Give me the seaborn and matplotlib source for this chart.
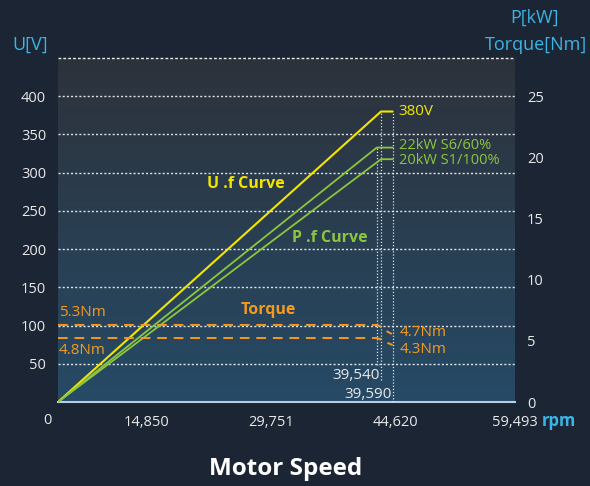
import numpy as np
import pandas as pd
import matplotlib
matplotlib.use("Agg")
import matplotlib.pyplot as plt
import seaborn as sns

# ---------------- data ----------------
speed_ticks = [0, 14850, 29751, 44620, 59493]
speed_tick_labels = ["", "14,850", "29,751", "44,620", "59,493"]
volt_ticks = [50, 100, 150, 200, 250, 300, 350, 400]
right_ticks = [0, 5, 10, 15, 20, 25]

u_speed = [0, 39540, 39590]
u_volt = [0, 380, 380]

p22_speed = [0, 39160, 39590]
p22_kw = [0, 20.8, 20.8]
p20_speed = [0, 39540, 39590]
p20_kw = [0, 19.85, 19.85]

t_hi_speed = [0, 39160, 39450, 39549, 39586]
t_hi_nm = [6.3, 6.3, 6.2, 5.95, 5.56]
t_lo_speed = [0, 39160, 39450, 39549, 39590]
t_lo_nm = [5.23, 5.23, 5.15, 4.98, 4.66]

# schematic (non-linear) speed axis of the original drawing
scale_rpm = [0, 14850, 29751, 39540, 39590, 44620, 59493]
scale_pos = [0, 89, 213, 323, 334.7, 337, 457]

# ---------------- style ----------------
BG = "#1b2533"
YEL = "#f2e600"
GRN = "#8cc63f"
ORG = "#f39a1e"
BLU = "#3bb4e6"
TXT = "#e8e8e8"

sns.set_style("dark")
plt.rcParams["font.family"] = ["Open Sans", "DejaVu Sans"]

W, H = 590, 486
fig = plt.figure(figsize=(W / 100, H / 100), dpi=100, facecolor=BG)
L, R, T, B = 58, 515, 58, 402
rect = [L / W, (H - B) / H, (R - L) / W, (B - T) / H]

# gradient background
bg_ax = fig.add_axes(rect, zorder=0)
top = np.array([45, 50, 59]) / 255
bot = np.array([38, 74, 102]) / 255
t = np.linspace(0, 1, 256)[:, None]
grad = (top[None, :] * (1 - t) + bot[None, :] * t)[:, None, :]
bg_ax.imshow(grad, aspect="auto", extent=[0, 1, 0, 1], interpolation="bilinear")
bg_ax.set_axis_off()

ax = fig.add_axes(rect, zorder=1)
ax.set_facecolor("none")

xa = np.array(scale_rpm, float)
ya = np.array(scale_pos, float)
s0 = (ya[1] - ya[0]) / (xa[1] - xa[0])
s1 = (ya[-1] - ya[-2]) / (xa[-1] - xa[-2])


def fwd(x):
    x = np.asarray(x, float)
    y = np.interp(x, xa, ya)
    y = np.where(x < xa[0], ya[0] + (x - xa[0]) * s0, y)
    y = np.where(x > xa[-1], ya[-1] + (x - xa[-1]) * s1, y)
    return y


def inv(y):
    y = np.asarray(y, float)
    x = np.interp(y, ya, xa)
    x = np.where(y < ya[0], xa[0] + (y - ya[0]) / s0, x)
    x = np.where(y > ya[-1], xa[-1] + (y - ya[-1]) / s1, x)
    return x


ax.set_xscale("function", functions=(fwd, inv))

# voltage line
sns.lineplot(x=u_speed, y=u_volt, ax=ax, color=YEL, lw=1.5, sort=False,
             estimator=None, zorder=5)

ax2 = ax.twinx()
sns.lineplot(x=p22_speed, y=p22_kw, ax=ax2, color=GRN, lw=1.3, sort=False,
             estimator=None, zorder=5)
sns.lineplot(x=p20_speed, y=p20_kw, ax=ax2, color=GRN, lw=1.3, sort=False,
             estimator=None, zorder=5)
sns.lineplot(x=t_hi_speed, y=t_hi_nm, ax=ax2, color=ORG, lw=1.4, sort=False,
             estimator=None, zorder=5, dashes=False)
ax2.lines[-1].set_linestyle((0, (5, 3.5)))
sns.lineplot(x=t_lo_speed, y=t_lo_nm, ax=ax2, color=ORG, lw=1.4, sort=False,
             estimator=None, zorder=5, dashes=False)
ax2.lines[-1].set_linestyle((0, (5, 3.5)))

ax.set_xlim(0, 59493)
ax.set_ylim(0, 450)
ax2.set_ylim(0, 450 / 16)

# grid
for v in volt_ticks:
    ax.axhline(v, color="white", lw=1.0, ls=(0, (1.5, 1.5)), alpha=0.85, zorder=2)
ax.axhline(450, color="white", lw=1.0, ls=(0, (2, 1.5)), alpha=0.9, zorder=2,
           clip_on=False)

# vertical dotted markers
vl = dict(color="white", lw=0.9, ls=(0, (1, 1.5)), alpha=0.85, zorder=3)
ax.vlines(39160, 48, 334, **vl)
ax.vlines(39540, 29, 380, **vl)
ax.vlines(39590, 0, 380, **vl)

# ticks
ax.set_xticks(speed_ticks)
ax.set_xticklabels(speed_tick_labels)
ax.set_yticks(volt_ticks)
ax2.set_yticks(right_ticks)
ax.tick_params(axis="x", length=0, pad=9.5, labelsize=10.5, colors=TXT)
ax.tick_params(axis="y", length=0, pad=8.5, labelsize=10.5, colors=TXT)
ax2.tick_params(axis="y", length=0, pad=8.5, labelsize=10.5, colors=TXT)
ax.grid(False)
ax2.grid(False)
for s in ["left", "right", "top"]:
    ax.spines[s].set_visible(False)
    ax2.spines[s].set_visible(False)
ax.spines["bottom"].set_color("#b6d0e2")
ax.spines["bottom"].set_linewidth(1.5)
ax2.spines["bottom"].set_visible(False)
ax.set_xlabel("")
ax.set_ylabel("")
ax2.set_ylabel("")

# zero label on x (shifted left of origin)
ax.text(-0.024, -0.055, "0", transform=ax.transAxes, ha="center", va="center",
        fontsize=10.5, color=TXT)

# annotations
fs = 11
ax.annotate("380V", xy=(39590, 380), xytext=(6, 0), textcoords="offset pixels",
            color=YEL, fontsize=fs, va="center", ha="left")
ax2.annotate("22kW S6/60%", xy=(39590, p22_kw[-1]), xytext=(6, 2),
             textcoords="offset pixels", color=GRN, fontsize=10.5, va="center")
ax2.annotate("20kW S1/100%", xy=(39590, p20_kw[-1]), xytext=(6, -1),
             textcoords="offset pixels", color=GRN, fontsize=10.5, va="center")
ax2.annotate("4.7Nm", xy=(39590, t_hi_nm[-1]), xytext=(7, 1),
             textcoords="offset pixels", color=ORG, fontsize=fs, va="center")
ax2.annotate("4.3Nm", xy=(39590, t_lo_nm[-1]), xytext=(7, -4),
             textcoords="offset pixels", color=ORG, fontsize=fs, va="center")
ax.annotate("39,540", xy=(39540, 0), xytext=(-1, 27), textcoords="offset pixels",
            color=TXT, fontsize=fs, ha="right", va="center")
ax.annotate("39,590", xy=(39590, 0), xytext=(-1, 8), textcoords="offset pixels",
            color=TXT, fontsize=fs, ha="right", va="center")

ax.text(0.002, 0.259, "5.3Nm", transform=ax.transAxes, color=ORG, fontsize=fs,
        va="center", ha="left")
ax.text(0.002, 0.151, "4.8Nm", transform=ax.transAxes, color=ORG, fontsize=fs,
        va="center", ha="left")
ax.text(0.326, 0.634, "U .f Curve", transform=ax.transAxes, color=YEL,
        fontsize=11.5, fontweight="bold", va="center", ha="left")
ax.text(0.512, 0.477, "P .f Curve", transform=ax.transAxes, color=GRN,
        fontsize=11.5, fontweight="bold", va="center", ha="left")
ax.text(0.400, 0.267, "Torque", transform=ax.transAxes, color=ORG,
        fontsize=11.5, fontweight="bold", va="center", ha="left")

# axis titles
fig.text(30 / W, 1 - 45 / H, "U[V]", color=BLU, fontsize=13, ha="center",
         va="center")
fig.text(534 / W, 1 - 18 / H, "P[kW]", color=BLU, fontsize=13, ha="center",
         va="center")
fig.text(536 / W, 1 - 45 / H, "Torque[Nm]", color=BLU, fontsize=13,
         ha="center", va="center")
fig.text(542 / W, 1 - 421 / H, "rpm", color=BLU, fontsize=12,
         fontweight="bold", ha="left", va="center")
fig.text(286 / W, 1 - 469 / H, "Motor Speed", color="white", fontsize=17.5,
         fontweight="bold", ha="center", va="center")

fig.savefig("out.png", dpi=100, facecolor=BG)
